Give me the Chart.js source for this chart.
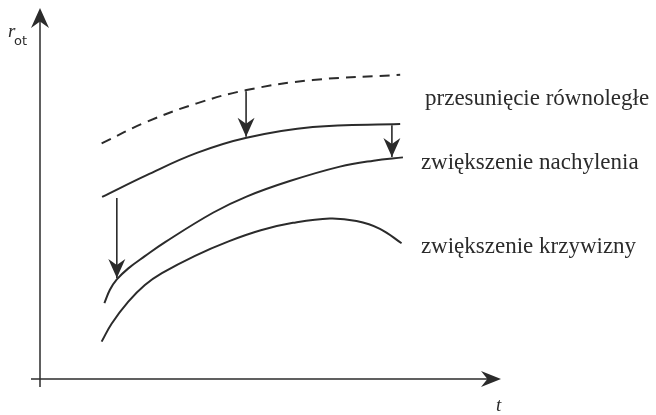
<!DOCTYPE html>
<html>
<head>
<meta charset="utf-8">
<script src="https://cdn.jsdelivr.net/npm/chart.js@4.4.1/dist/chart.umd.min.js"></script>
<style>
  html, body { margin: 0; padding: 0; background: #fff; }
  #wrap { width: 656px; height: 415px; }
</style>
</head>
<body>
<div id="wrap"><canvas id="curveChart"></canvas></div>
<script>
// krzywa wyjściowa (przerywana)
const tBase = [1.34, 2.32, 3.41, 4.49, 5.93, 7.83];
const rBase = [6.37, 6.95, 7.45, 7.81, 8.08, 8.22];

// po przesunięciu równoległym
const tShift = [1.35, 2.32, 3.41, 4.49, 5.93, 7.83];
const rShift = [4.92, 5.51, 6.11, 6.52, 6.81, 6.89];

// po zwiększeniu nachylenia
const tSlope = [1.40, 1.52, 1.67, 1.92, 2.28, 2.72, 3.77, 4.49, 5.43, 6.52, 7.25, 7.89];
const rSlope = [2.05, 2.41, 2.69, 2.99, 3.32, 3.70, 4.50, 4.93, 5.35, 5.74, 5.90, 5.99];

// po zwiększeniu krzywizny
const tCurv = [1.34, 1.56, 1.92, 2.28, 2.65, 3.37, 4.10, 4.80, 5.50, 6.30, 6.88, 7.39, 7.86];
const rCurv = [1.01, 1.50, 2.09, 2.54, 2.86, 3.33, 3.72, 4.02, 4.22, 4.34, 4.27, 4.06, 3.67];

// strzałki: położenie t, r początku, r końca
const arrowT = [4.48, 7.65, 1.67];
const arrowFrom = [7.78, 6.86, 4.89];
const arrowTo = [6.55, 6.00, 2.73];

const curveLabels = ['przesunięcie równoległe', 'zwiększenie nachylenia', 'zwiększenie krzywizny'];
const labelT = [8.37, 8.28, 8.28];
const labelR = [7.41, 5.68, 3.41];

const ink = '#2b2b2b';

const toPoints = (ts, rs) => ts.map((t, i) => ({ x: t, y: rs[i] }));

function curve(data, dashed) {
  return {
    data,
    borderColor: ink,
    borderWidth: 2,
    borderDash: dashed ? [10, 7] : [],
    pointRadius: 0,
    showLine: true,
    tension: 0.4,
    fill: false
  };
}

const datasets = [
  curve(toPoints(tBase, rBase), true),
  curve(toPoints(tShift, rShift), false),
  curve(toPoints(tSlope, rSlope), false),
  curve(toPoints(tCurv, rCurv), false)
];

arrowT.forEach((t, i) => {
  datasets.push({
    data: [{ x: t, y: arrowFrom[i] }, { x: t, y: arrowTo[i] }],
    borderColor: ink,
    borderWidth: 1.6,
    pointRadius: 0,
    showLine: true,
    isArrow: true
  });
});

function arrowHead(ctx, x, y, angle, len, half) {
  ctx.save();
  ctx.translate(x, y);
  ctx.rotate(angle);
  ctx.beginPath();
  ctx.moveTo(0, 0);
  ctx.lineTo(-len, -half);
  ctx.lineTo(-len * 0.68, 0);
  ctx.lineTo(-len, half);
  ctx.closePath();
  ctx.fill();
  ctx.restore();
}

const sketchPlugin = {
  id: 'sketch',
  beforeDatasetsDraw(chart) {
    const { ctx, chartArea: a } = chart;
    ctx.save();
    ctx.strokeStyle = ink;
    ctx.fillStyle = ink;
    ctx.lineWidth = 1.5;
    // oś r
    ctx.beginPath();
    ctx.moveTo(a.left, a.bottom + 8);
    ctx.lineTo(a.left, a.top + 10);
    ctx.stroke();
    arrowHead(ctx, a.left, a.top - 1, -Math.PI / 2, 20, 9);
    // oś t
    ctx.beginPath();
    ctx.moveTo(a.left - 9, a.bottom);
    ctx.lineTo(a.right - 10, a.bottom);
    ctx.stroke();
    arrowHead(ctx, a.right + 1, a.bottom, 0, 20, 8);

    ctx.textBaseline = 'alphabetic';
    ctx.font = 'italic 19px "Liberation Serif", serif';
    ctx.fillText('r', 8, 37);
    ctx.font = '13px "DejaVu Sans", sans-serif';
    ctx.fillText('ot', 14, 45);
    ctx.font = 'italic 19px "Liberation Serif", serif';
    ctx.fillText('t', a.right - 4, 411);
    ctx.restore();
  },
  afterDatasetsDraw(chart) {
    const { ctx } = chart;
    const xs = chart.scales.x, ys = chart.scales.y;
    ctx.save();
    ctx.fillStyle = ink;
    chart.data.datasets.forEach((ds, i) => {
      if (!ds.isArrow) return;
      const pts = chart.getDatasetMeta(i).data;
      const p0 = pts[0], p1 = pts[1];
      const ang = Math.atan2(p1.y - p0.y, p1.x - p0.x);
      arrowHead(ctx, p1.x, p1.y, ang, 19, 8.5);
    });
    ctx.font = '23px "Liberation Serif", serif';
    ctx.textBaseline = 'alphabetic';
    curveLabels.forEach((txt, i) => {
      ctx.fillText(txt, xs.getPixelForValue(labelT[i]), ys.getPixelForValue(labelR[i]));
    });
    ctx.restore();
  }
};

new Chart(document.getElementById('curveChart'), {
  type: 'scatter',
  data: { datasets },
  options: {
    responsive: true,
    maintainAspectRatio: false,
    animation: false,
    layout: { padding: { left: 40, right: 156, top: 9, bottom: 36 } },
    plugins: { legend: { display: false }, tooltip: { enabled: false } },
    scales: {
      x: { type: 'linear', min: 0, max: 10, display: false },
      y: { type: 'linear', min: 0, max: 10, display: false }
    }
  },
  plugins: [sketchPlugin]
});
</script>
</body>
</html>
